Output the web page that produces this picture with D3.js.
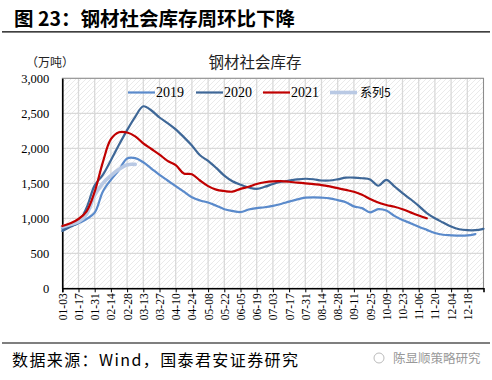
<!DOCTYPE html>
<html><head><meta charset="utf-8">
<script src="https://cdn.jsdelivr.net/npm/d3@7"></script>
<style>body{margin:0;background:#fff}svg{display:block}</style>
</head><body>
<svg id="c" width="492" height="380"></svg>
<script>
const tickLabels = ["01-03","01-17","01-31","02-14","02-28","03-13","03-27","04-10","04-24","05-08","05-22","06-05","06-19","07-03","07-17","07-31","08-14","08-28","09-11","09-25","10-09","10-23","11-06","11-20","12-04","12-18"];
const yTicks = [0,500,1000,1500,2000,2500,3000];
const s2019 = [850,890,930,990,1080,1380,1550,1690,1855,1860,1800,1710,1620,1540,1460,1380,1300,1255,1225,1180,1130,1105,1090,1125,1145,1158,1178,1205,1238,1270,1295,1300,1295,1285,1260,1230,1170,1145,1085,1130,1110,1035,975,930,880,835,790,765,757,752,755,775];
const s2020 = [820,880,940,1150,1470,1620,1830,2050,2260,2450,2600,2540,2440,2360,2270,2160,2040,1900,1820,1720,1610,1530,1480,1440,1420,1450,1490,1522,1538,1555,1565,1558,1540,1540,1557,1580,1582,1572,1555,1465,1548,1455,1360,1272,1178,1075,1000,940,882,843,830,830,850];
const s2021 = [890,930,990,1100,1380,1800,2130,2230,2225,2170,2070,1990,1910,1820,1760,1640,1630,1540,1460,1410,1390,1380,1420,1450,1490,1515,1528,1530,1522,1510,1500,1488,1475,1455,1430,1405,1380,1335,1275,1225,1190,1165,1130,1085,1040,1000];
const s5 = [880,910,950,1060,1330,1500,1610,1700,1765,1770];

const series = [
  {name:"2019", data:s2019, color:"#5A8ACB", w:2.2},
  {name:"2020", data:s2020, color:"#3E6797", w:2.2},
  {name:"2021", data:s2021, color:"#C00000", w:2.2},
  {name:"系列5", data:s5, color:"#B9C9E4", w:3.6}
];
const drawOrder = [series[0], series[1], series[3], series[2]];

const svg = d3.select("#c");
const L = 62.3, R = 483.5, T = 78.3, B = 288.3;
const x = d3.scaleLinear().domain([0,52]).range([L,R]);
const y = d3.scaleLinear().domain([0,3000]).range([B,T]);

const serif = "'Liberation Serif','Times New Roman',serif";
const cjk = "'Noto Sans CJK SC','Noto Sans',sans-serif";

// Title
svg.append("text").attr("x",14).attr("y",26).attr("font-family",cjk).attr("font-weight","bold")
  .attr("font-size",19.5).attr("fill","#000").text("图 23：钢材社会库存周环比下降");
svg.append("line").attr("x1",2).attr("x2",490).attr("y1",31.8).attr("y2",31.8).attr("stroke","#000").attr("stroke-width",1.2);

// pattern
const defs = svg.append("defs");
const pat = defs.append("pattern").attr("id","hatch").attr("patternUnits","userSpaceOnUse")
  .attr("width",5).attr("height",5);
pat.append("path").attr("d","M-1,1 l2,-2 M0,5 l5,-5 M4,6 l2,-2").attr("stroke","#e4e4e4").attr("stroke-width",0.8);
svg.append("rect").attr("x",L).attr("y",T).attr("width",R-L).attr("height",B-T).attr("fill","url(#hatch)");

// gridlines
const g = svg.append("g");
g.selectAll(".vg").data(d3.range(1,27)).enter().append("line")
  .attr("x1",d=>x(d*2)).attr("x2",d=>x(d*2)).attr("y1",T).attr("y2",B)
  .attr("stroke","#d9d9d9").attr("stroke-width",1.3);
g.selectAll(".hg").data(yTicks.slice(1)).enter().append("line")
  .attr("x1",L).attr("x2",R).attr("y1",d=>y(d)).attr("y2",d=>y(d))
  .attr("stroke","#d9d9d9").attr("stroke-width",1.3);
// border
svg.append("rect").attr("x",L).attr("y",T).attr("width",R-L).attr("height",B-T)
  .attr("fill","none").attr("stroke","#8c8c8c").attr("stroke-width",1);

// axes
const yAxis = d3.axisLeft(y).tickValues(yTicks).tickSize(0).tickPadding(13).tickFormat(d3.format(","));
const ya = svg.append("g").attr("transform",`translate(${L},0)`).call(yAxis);
ya.select(".domain").attr("stroke","#000").attr("stroke-width",1.6);
ya.selectAll("text").attr("font-family",serif).attr("font-size",12.5).attr("fill","#000");

const xAxis = d3.axisBottom(x).tickValues(d3.range(0,52,2)).tickSize(4)
  .tickFormat((d,i)=>tickLabels[i]);
const xa = svg.append("g").attr("transform",`translate(0,${B})`).call(xAxis);
xa.select(".domain").attr("stroke","#000").attr("stroke-width",1.6);
xa.selectAll(".tick line").attr("stroke","#000");
xa.selectAll("text").attr("font-family",serif).attr("font-size",11.5).attr("fill","#000")
  .attr("transform","rotate(-90)").attr("text-anchor","end")
  .attr("y",0).attr("x",-5).attr("dy","0.35em");

// lines
const line = d3.line().x((d,i)=>x(i)).y(d=>y(d)).curve(d3.curveCatmullRom.alpha(0.5));
drawOrder.forEach(s=>{
  svg.append("path").datum(s.data).attr("d",line).attr("fill","none")
    .attr("stroke",s.color).attr("stroke-width",s.w).attr("stroke-linejoin","round").attr("stroke-linecap","round");
});

// legend
const legX = [128,196,263,330];
series.forEach((s,i)=>{
  const lg = svg.append("g").attr("transform",`translate(${legX[i]},92.5)`);
  lg.append("line").attr("x1",0).attr("x2",27).attr("y1",0).attr("y2",0)
    .attr("stroke",s.color).attr("stroke-width",s.w);
  lg.append("text").attr("x", i===3?30:28).attr("y",4.5).attr("font-family", i===3?cjk:serif)
    .attr("font-size",i===3?12:14).attr("fill","#000").text(s.name);
});

// chart title and unit
svg.append("text").attr("x",255).attr("y",68).attr("text-anchor","middle").attr("font-family",cjk)
  .attr("font-size",15.5).attr("fill","#222").text("钢材社会库存");
svg.append("text").attr("x",26).attr("y",67).attr("font-family",cjk)
  .attr("font-size",12).attr("fill","#222").text("（万吨）");

// footer
svg.append("line").attr("x1",2).attr("x2",490).attr("y1",343).attr("y2",343).attr("stroke","#000").attr("stroke-width",1.2);
svg.append("text").attr("x",12).attr("y",366).attr("font-family",cjk).attr("font-size",16).attr("letter-spacing",1.4).attr("fill","#000")
  .text("数据来源：Wind，国泰君安证券研究");
svg.append("circle").attr("cx",379).attr("cy",358).attr("r",5).attr("fill","none").attr("stroke","#bbb");
svg.append("text").attr("x",393).attr("y",363).attr("font-family",cjk).attr("font-size",12.5).attr("fill","#999")
  .text("陈显顺策略研究");
</script>
</body></html>
